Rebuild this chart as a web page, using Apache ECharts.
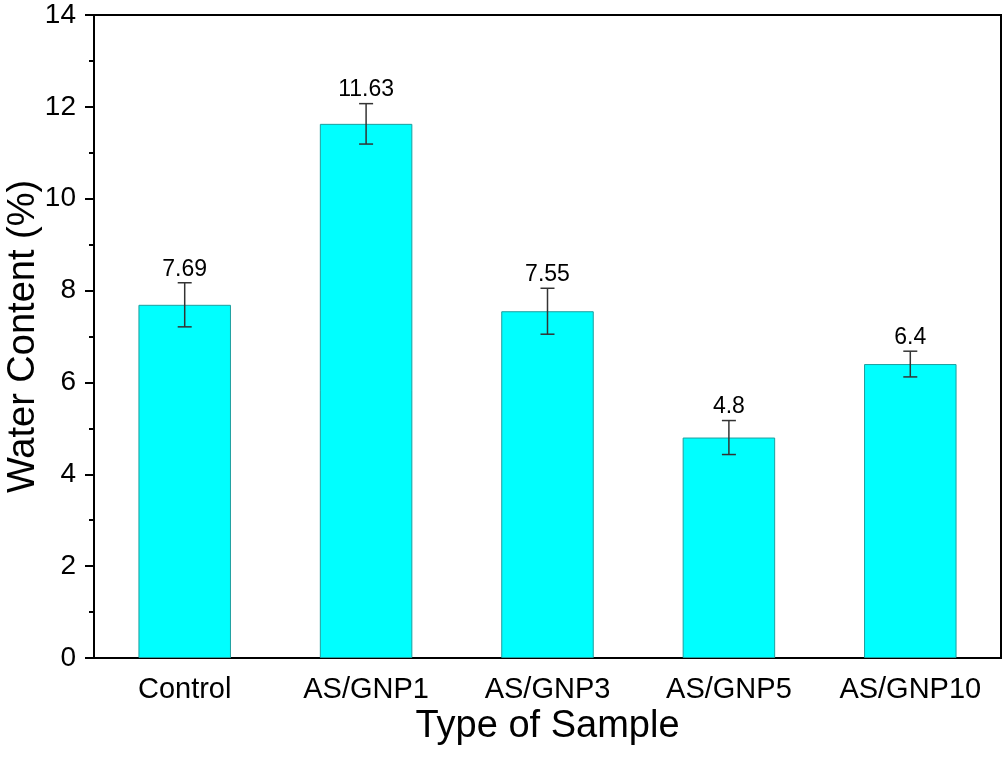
<!DOCTYPE html>
<html>
<head>
<meta charset="utf-8">
<script src="https://cdn.jsdelivr.net/npm/echarts@6/dist/echarts.min.js"></script>
<style>
	html, body { margin: 0; padding: 0; background: #fff; }
	#chart { width: 1006px; height: 765px; }
</style>
</head>
<body>
<div id="chart"></div>
<script>
var samples = ['Control', 'AS/GNP1', 'AS/GNP3', 'AS/GNP5', 'AS/GNP10'];
var waterContent = [7.69, 11.63, 7.55, 4.8, 6.4];
var waterError = [0.48, 0.44, 0.5, 0.37, 0.28];
var yTicks = [0, 2, 4, 6, 8, 10, 12, 14];

var font = 'Liberation Sans, Arial, sans-serif';

var errorData = samples.map(function (name, i) {
	return [i, waterContent[i] - waterError[i], waterContent[i] + waterError[i], waterContent[i]];
});

var chart = echarts.init(document.getElementById('chart'));

var options = {
	animation: false,
	grid: [
		{left: 94, right: 5, top: 15, bottom: 107, containLabel: false, outerBoundsMode: 'none',
			show: true, borderColor: '#000', borderWidth: 2},
		{left: 94, right: 5, top: 15, bottom: 107, containLabel: false, outerBoundsMode: 'none'}
	],
	xAxis: [
		{
			type: 'category',
			data: samples,
			gridIndex: 0,
			name: 'Type of Sample',
			nameLocation: 'middle',
			nameGap: 50,
			nameMoveOverlap: false,
			nameTextStyle: {fontFamily: font, fontSize: 38, color: '#000'},
			axisLine: {lineStyle: {color: '#000', width: 2}},
			axisTick: {alignWithLabel: true, length: 9, lineStyle: {color: '#000', width: 2}},
			axisLabel: {interval: 0, hideOverlap: false, fontFamily: font, fontSize: 29, color: '#000', margin: 17}
		},
		{
			type: 'category',
			data: samples,
			gridIndex: 1,
			axisLine: {show: false},
			axisTick: {length: 5, lineStyle: {color: '#000', width: 2}},
			axisLabel: {show: false}
		}
	],
	yAxis: [
		{
			type: 'value',
			gridIndex: 0,
			min: yTicks[0],
			max: yTicks[yTicks.length - 1],
			interval: 2,
			name: 'Water Content (%)',
			nameLocation: 'middle',
			nameGap: 51,
			nameMoveOverlap: false,
			nameTextStyle: {fontFamily: font, fontSize: 38, color: '#000'},
			splitLine: {show: false},
			axisLine: {show: true, lineStyle: {color: '#000', width: 2}},
			axisTick: {show: true, length: 9, lineStyle: {color: '#000', width: 2}},
			minorTick: {show: true, splitNumber: 2, length: 5, lineStyle: {color: '#000', width: 2}},
			axisLabel: {fontFamily: font, fontSize: 28, color: '#000', margin: 18}
		},
		{
			type: 'value',
			gridIndex: 1,
			min: 0,
			max: 14,
			show: false
		}
	],
	series: [
		{
			type: 'bar',
			data: waterContent,
			barWidth: '51%',
			itemStyle: {color: '#00FFFF', borderColor: '#1E9E9E', borderWidth: 1}
		},
		{
			type: 'custom',
			data: errorData,
			z: 10,
			renderItem: function (params, api) {
				var x = api.value(0);
				var low = api.coord([x, api.value(1)]);
				var high = api.coord([x, api.value(2)]);
				var cap = 7;
				var style = {stroke: '#333', lineWidth: 1.5};
				return {
					type: 'group',
					children: [
						{type: 'line', shape: {x1: high[0], y1: high[1], x2: low[0], y2: low[1]}, style: style},
						{type: 'line', shape: {x1: high[0] - cap, y1: high[1], x2: high[0] + cap, y2: high[1]}, style: style},
						{type: 'line', shape: {x1: low[0] - cap, y1: low[1], x2: low[0] + cap, y2: low[1]}, style: style},
						{
							type: 'text',
							x: high[0],
							y: high[1] - 2,
							style: {
								text: String(api.value(3)),
								fontFamily: font,
								fontSize: 23,
								fill: '#000',
								align: 'center',
								verticalAlign: 'bottom'
							}
						}
					]
				};
			}
		}
	]
};

chart.setOption(options);
</script>
</body>
</html>
